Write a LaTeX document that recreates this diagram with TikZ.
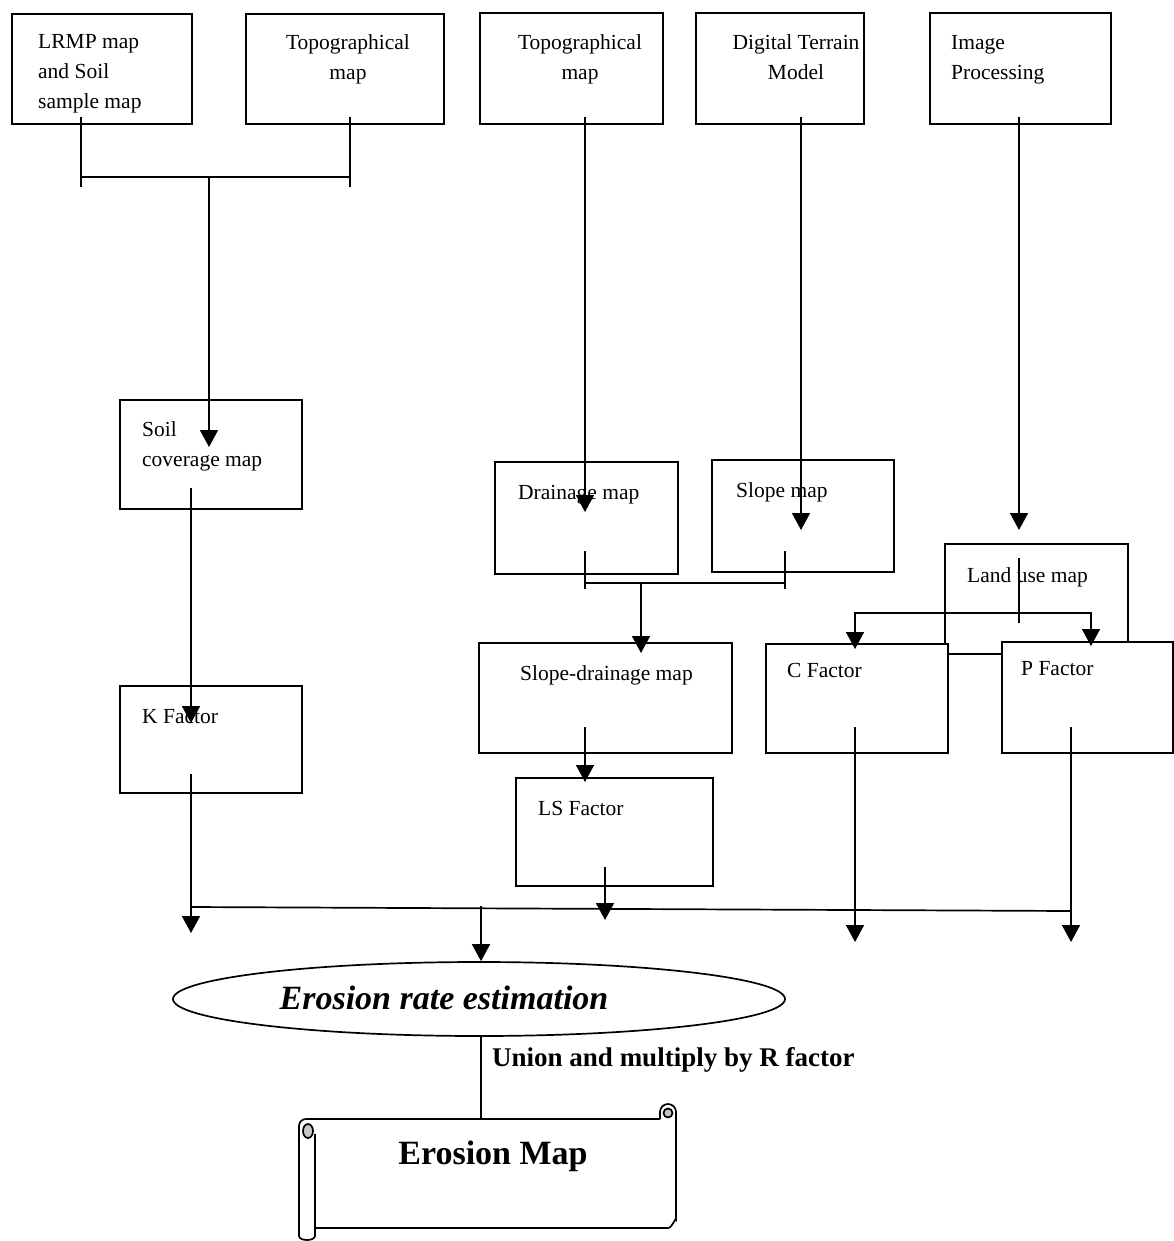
\documentclass[tikz,border=0pt]{standalone}
\usepackage{fontspec}
\setmainfont{Liberation Serif}
\usetikzlibrary{arrows.meta,shapes.geometric}
\newcommand{\boxfont}{\fontsize{21.5}{30}\selectfont}

\begin{document}
\begin{tikzpicture}[x=1pt,y=-1pt,
	box/.style 2 args={draw,line width=1.7pt,fill=white,anchor=north west,inner sep=0pt,minimum width=#1,minimum height=#2},
	txt/.style={anchor=base west,align=left,inner sep=0pt,font=\boxfont},
	ctxt/.style={txt,anchor=base,align=center},
	link/.style={line width=1.7pt},
	arr/.style={link,-{Triangle[length=17pt,width=18pt]}}]
	\useasboundingbox (0,0) rectangle (1173,1241);
	% source maps (base of last line)
	\node[box={180pt}{110pt}] (lrmp) at (11,13) {};
	\node[box={198pt}{110pt}] (topoA) at (245,13) {};
	\node[box={183pt}{111pt}] (topoB) at (479,12) {};
	\node[box={168pt}{111pt}] (dtm) at (695,12) {};
	\node[box={181pt}{111pt}] (imgp) at (929,12) {};
	\node[txt] (lrmp-t) at (38,109) {LRMP map\\and Soil\\sample map};
	\node[ctxt] (topoA-t) at (348,80) {Topographical\\map};
	\node[ctxt] (topoB-t) at (580,80) {Topographical\\map};
	\node[ctxt] (dtm-t) at (796,80) {Digital Terrain\\Model};
	\node[txt] (imgp-t) at (951,80) {Image\\Processing};
	% derived maps
	\node[box={182pt}{109pt}] (soil) at (119,399) {};
	\node[box={183pt}{112pt}] (drain) at (494,461) {};
	\node[box={182pt}{112pt}] (slope) at (711,459) {};
	\node[box={183pt}{110pt}] (landuse) at (944,543) {};
	\node[box={253pt}{110pt}] (sdrain) at (478,642) {};
	\node[txt] (soil-t) at (142,466) {Soil\\coverage map};
	\node[txt] (drain-t) at (518,499) {Drainage map};
	\node[txt] (slope-t) at (736,497) {Slope map};
	\node[txt] (landuse-t) at (967,582) {Land use map};
	\node[txt] (sdrain-t) at (520,680) {Slope-drainage map};
	% factors
	\node[box={182pt}{109pt}] (cfac) at (765,643) {};
	\node[box={171pt}{111pt}] (pfac) at (1001,641) {};
	\node[box={182pt}{107pt}] (kfac) at (119,685) {};
	\node[box={197pt}{108pt}] (lsfac) at (515,777) {};
	\node[txt] (cfac-t) at (787,677) {C Factor};
	\node[txt] (pfac-t) at (1021,675) {P Factor};
	\node[txt] (kfac-t) at (142,723) {K Factor};
	\node[txt] (lsfac-t) at (538,815) {LS Factor};
	% result
	\node[draw,ellipse,link,minimum width=612pt,minimum height=74pt,inner sep=0pt] (est) at (479,999) {};
	\node[font=\fontsize{34}{40}\selectfont\bfseries\itshape,anchor=base,inner sep=0pt] (est-t) at (444,1009) {Erosion rate estimation};
	\node[font=\fontsize{27}{30}\selectfont\bfseries,anchor=base west,inner sep=0pt] (union) at (492,1066) {Union and multiply by R factor};
	\draw[link] (660,1119) -- (306,1119) arc[start angle=-90,end angle=-180,radius=7] -- (299,1236)
		arc[start angle=180,end angle=0,x radius=8,y radius=4] -- (315,1134);
	\draw[link,fill=gray!45] (308,1131) ellipse[x radius=5,y radius=7];
	\draw[link] (315,1228) -- (668,1228) to[out=0,in=90] (676,1220) -- (676,1112)
		arc[start angle=0,end angle=-180,radius=8] -- (660,1119);
	\draw[link,fill=gray!45] (668,1113) circle[radius=4.5];
	\node[font=\fontsize{34}{40}\selectfont\bfseries,anchor=base,inner sep=0pt] (emap) at (493,1164) {Erosion Map};
	% joints
	\coordinate (lrmp-o) at (81,117);
	\coordinate (lrmp-e) at (81,187);
	\coordinate (topoA-o) at (350,117);
	\coordinate (topoA-e) at (350,187);
	\coordinate (soil-j) at (209,177);
	\coordinate (soil-in) at (209,447);
	\coordinate (topoB-o) at (585,117);
	\coordinate (drain-in) at (585,512);
	\coordinate (dtm-o) at (801,117);
	\coordinate (slope-in) at (801,530);
	\coordinate (imgp-o) at (1019,117);
	\coordinate (landuse-in) at (1019,530);
	\coordinate (soil-o) at (191,488);
	\coordinate (kfac-in) at (191,723);
	\coordinate (drain-o) at (585,551);
	\coordinate (drain-e) at (585,589);
	\coordinate (slope-o) at (785,551);
	\coordinate (slope-e) at (785,589);
	\coordinate (sdrain-j) at (641,583);
	\coordinate (sdrain-in) at (641,653);
	\coordinate (landuse-o) at (1019,558);
	\coordinate (landuse-e) at (1019,623);
	\coordinate (landuse-j) at (1019,613);
	\coordinate (cfac-in) at (855,649);
	\coordinate (pfac-in) at (1091,646);
	\coordinate (sdrain-o) at (585,727);
	\coordinate (lsfac-in) at (585,782);
	\coordinate (kfac-o) at (191,774);
	\coordinate (kfac-e) at (191,933);
	\coordinate (lsfac-o) at (605,867);
	\coordinate (lsfac-e) at (605,920);
	\coordinate (cfac-o) at (855,727);
	\coordinate (cfac-e) at (855,942);
	\coordinate (pfac-o) at (1071,727);
	\coordinate (pfac-e) at (1071,942);
	\coordinate (bus-l) at (191,907);
	\coordinate (bus-r) at (1071,911);
	\coordinate (bus-m) at (481,906);
	\coordinate (emap-top) at (481,1119);
	% connectors
	\draw[link] (lrmp-o) -- (lrmp-e);
	\draw[link] (topoA-o) -- (topoA-e);
	\draw[link] (lrmp-o |- soil-j) -- (topoA-o |- soil-j);
	\draw[arr] (soil-j) -- (soil-in);
	\draw[arr] (topoB-o) -- (drain-in);
	\draw[arr] (dtm-o) -- (slope-in);
	\draw[arr] (imgp-o) -- (landuse-in);
	\draw[arr] (soil-o) -- (kfac-in);
	\draw[link] (drain-o) -- (drain-e);
	\draw[link] (slope-o) -- (slope-e);
	\draw[link] (drain-o |- sdrain-j) -- (slope-o |- sdrain-j);
	\draw[arr] (sdrain-j) -- (sdrain-in);
	\draw[link] (landuse-o) -- (landuse-e);
	\draw[arr] (landuse-j) -| (cfac-in);
	\draw[arr] (landuse-j) -| (pfac-in);
	\draw[arr] (sdrain-o) -- (lsfac-in);
	\draw[arr] (kfac-o) -- (kfac-e);
	\draw[link] (bus-l) -- (bus-r);
	\draw[arr] (bus-m) -- (bus-m |- est.north);
	\draw[arr] (lsfac-o) -- (lsfac-e);
	\draw[arr] (cfac-o) -- (cfac-e);
	\draw[arr] (pfac-o) -- (pfac-e);
	\draw[link] (bus-m |- est.south) -- (emap-top);
\end{tikzpicture}
\end{document}
